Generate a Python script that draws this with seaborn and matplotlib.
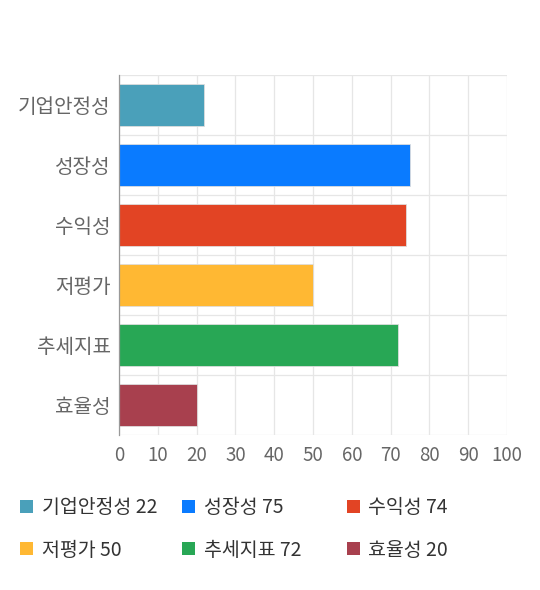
import pandas as pd
import matplotlib.pyplot as plt
import seaborn as sns
from matplotlib.patches import Patch

categories = ["기업안정성", "성장성", "수익성", "저평가", "추세지표", "효율성"]
scores = [22, 75, 74, 50, 72, 20]
colors = ["#4aa0ba", "#0a7bff", "#e24424", "#ffb833", "#28a755", "#a8404e"]
x_ticks = [0, 10, 20, 30, 40, 50, 60, 70, 80, 90, 100]

df = pd.DataFrame({"category": categories, "score": scores})

sns.set_style("white")
plt.rcParams["font.family"] = ["Noto Sans CJK KR", "DejaVu Sans"]

fig = plt.figure(figsize=(5.4, 5.9), dpi=100)
ax = fig.add_axes([0.2204, 0.2627, 0.7185, 0.6102])

sns.barplot(data=df, y="category", x="score", hue="category", palette=colors,
            orient="h", width=0.7, saturation=1, legend=False, ax=ax,
            edgecolor="#dddddd", linewidth=0.6)

ax.set_xlim(0, 100)
ax.set_ylim(5.5, -0.5)
ax.set_xticks(x_ticks)
ax.set_yticks(range(len(categories)))
ax.set_yticks([i - 0.5 for i in range(len(categories) + 1)], minor=True)
ax.set_xlabel("")
ax.set_ylabel("")

ax.grid(axis="x", color="#e6e6e6", linewidth=0.9)
ax.grid(axis="y", which="minor", color="#e6e6e6", linewidth=0.9)
ax.set_axisbelow(True)
ax.tick_params(axis="x", length=6, color="#e6e6e6", labelsize=13.5, labelcolor="#666666", pad=1)
ax.tick_params(axis="y", which="major", length=0, labelsize=14.5, labelcolor="#666666", pad=6)
ax.tick_params(axis="y", which="minor", length=9, color="#e6e6e6")

for s in ["top", "right", "bottom"]:
    ax.spines[s].set_visible(False)
ax.spines["left"].set_color("#999999")
ax.spines["left"].set_linewidth(0.9)

# legend: three columns, two rows each
handles = [Patch(facecolor=c, edgecolor="none") for c in colors]
labels = [f"{c} {v}" for c, v in zip(categories, scores)]
col_x = [0.005, 0.305, 0.61]
for col, x0 in enumerate(col_x):
    idx = [col, col + 3]
    leg = fig.legend([handles[i] for i in idx], [labels[i] for i in idx],
                     loc="upper left", bbox_to_anchor=(x0, 0.187),
                     frameon=False, fontsize=14, handlelength=0.65, handleheight=0.65,
                     handletextpad=0.45, labelspacing=1.1)
    for t in leg.get_texts():
        t.set_color("#333333")

fig.savefig("out.png", dpi=100)
